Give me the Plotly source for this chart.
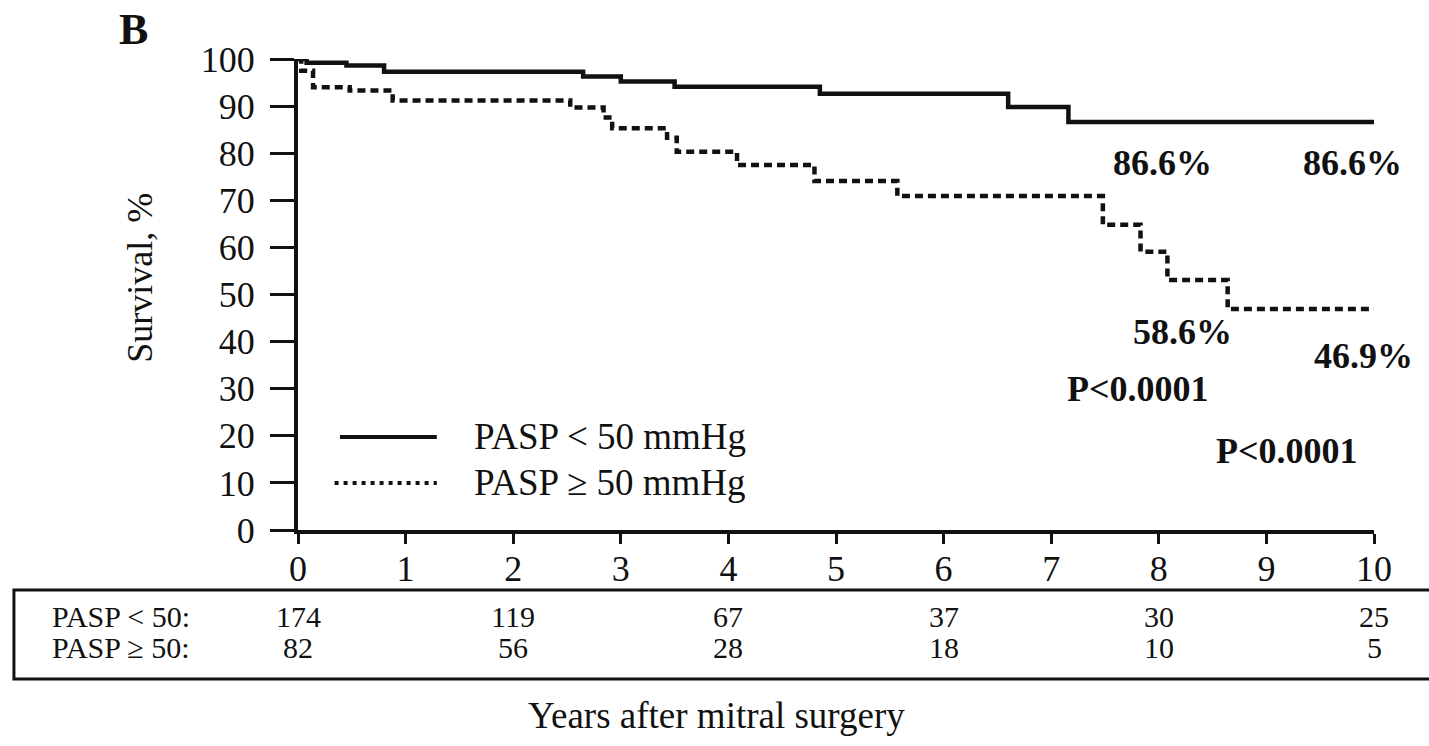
import plotly.graph_objects as go

# ---- data ----
low_t = [0, 0.08, 0.45, 0.8, 2.65, 3.0, 3.5, 4.85, 6.6, 7.16, 10]
low_s = [100, 99.2, 98.6, 97.3, 96.3, 95.2, 94.1, 92.6, 89.8, 86.6, 86.6]

high_t = [0, 0.03, 0.14, 0.48, 0.88, 2.53, 2.84, 2.92, 3.43, 3.52, 4.08, 4.8, 5.57,
          7.48, 7.83, 8.08, 8.64, 10]
high_s = [100, 97.5, 94.0, 93.3, 91.2, 89.7, 87.6, 85.3, 83.3, 80.3, 77.5, 74.1, 70.9,
          64.8, 59.1, 53.1, 46.9, 46.9]

risk_years = [0, 2, 4, 6, 8, 10]
risk_low = [174, 119, 67, 37, 30, 25]
risk_high = [82, 56, 28, 18, 10, 5]

x_ticks = list(range(0, 11))
y_ticks = list(range(0, 101, 10))

series_names = ["PASP < 50 mmHg", "PASP \u2265 50 mmHg"]
row_labels = ["PASP < 50:", "PASP \u2265 50:"]

FONT = "Liberation Serif"

fig = go.Figure()
fig.add_trace(go.Scatter(x=low_t, y=low_s, mode="lines", line_shape="hv",
                         line=dict(color="#111", width=4.5), name=series_names[0],
                         showlegend=False))
fig.add_trace(go.Scatter(x=high_t, y=high_s, mode="lines", line_shape="hv",
                         line=dict(color="#111", width=4.5, dash="8px,5px"),
                         name=series_names[1], showlegend=False))

fig.update_layout(
    width=1429, height=746,
    margin=dict(l=298, r=55, t=59, b=216),
    paper_bgcolor="white", plot_bgcolor="white",
    font=dict(family=FONT, color="#111"),
    xaxis=dict(range=[0, 10], tickvals=x_ticks, ticks="outside", ticklen=10,
               tickwidth=3, tickcolor="#111", showline=True, linewidth=4,
               linecolor="#111", showgrid=False, zeroline=False,
               tickfont=dict(size=36, family=FONT), ticklabelstandoff=-6),
    yaxis=dict(range=[0, 100], tickvals=y_ticks, ticks="outside", ticklen=24,
               tickwidth=3, tickcolor="#111", showline=True, linewidth=4,
               linecolor="#111", showgrid=False, zeroline=False,
               tickfont=dict(size=36, family=FONT), ticklabelstandoff=8),
)

ann = []
# panel letter and axis titles
ann.append(dict(text="<b>B</b>", x=-0.153, y=1.062, xref="paper", yref="paper",
                xanchor="center", yanchor="middle",
                showarrow=False, font=dict(size=44, family=FONT)))
ann.append(dict(text="Survival, %", x=-0.147, y=0.535, xref="paper", yref="paper",
                xanchor="center", yanchor="middle",
                textangle=-90, showarrow=False, font=dict(size=36, family=FONT)))
ann.append(dict(text="Years after mitral surgery", x=0.3885, y=-0.393, xref="paper",
                yref="paper", xanchor="center", yanchor="middle",
                showarrow=False, font=dict(size=37, family=FONT)))

# value labels
bold = dict(size=36, family=FONT, color="#111")
for txt, xx, yy in [("86.6%", 8.03, 78.0), ("86.6%", 9.8, 78.0),
                    ("58.6%", 8.22, 42.1), ("46.9%", 9.9, 37.0),
                    ("P<0.0001", 7.81, 29.9), ("P<0.0001", 9.19, 16.7)]:
    ann.append(dict(text="<b>%s</b>" % txt, x=xx, y=yy, xref="x", yref="y",
                    xanchor="center", yanchor="middle",
                    showarrow=False, font=bold))

# legend (manual)
for name, yy in zip(series_names, [0.1975, 0.0998]):
    ann.append(dict(text=name, x=0.1617, y=yy, xref="paper", yref="paper",
                    xanchor="left", yanchor="middle",
                    showarrow=False, font=dict(size=37, family=FONT)))

# risk table
for lab, yy in zip(row_labels, [-0.1826, -0.2505]):
    ann.append(dict(text=lab, x=-0.2305, y=yy, xref="paper", yref="paper",
                    xanchor="left", yanchor="middle",
                    showarrow=False, font=dict(size=30, family=FONT)))
for row, yy in zip([risk_low, risk_high], [-0.1826, -0.2505]):
    for xx, v in zip(risk_years, row):
        ann.append(dict(text=str(v), x=xx, y=yy, xref="x", yref="paper",
                        xanchor="center", yanchor="middle",
                        showarrow=False, font=dict(size=30, family=FONT)))

fig.update_layout(annotations=ann)

shapes = [
    dict(type="line", xref="paper", yref="paper", x0=0.039, x1=0.129,
         y0=0.1975, y1=0.1975, line=dict(color="#111", width=4)),
    dict(type="line", xref="paper", yref="paper", x0=0.034, x1=0.129,
         y0=0.0998, y1=0.0998, line=dict(color="#111", width=4, dash="4px,5px")),
    dict(type="rect", xref="paper", yref="paper", x0=-0.264, x1=1.07,
         y0=-0.3163, y1=-0.1274, line=dict(color="#111", width=3)),
]
fig.update_layout(shapes=shapes)

fig.write_html("out.html")
